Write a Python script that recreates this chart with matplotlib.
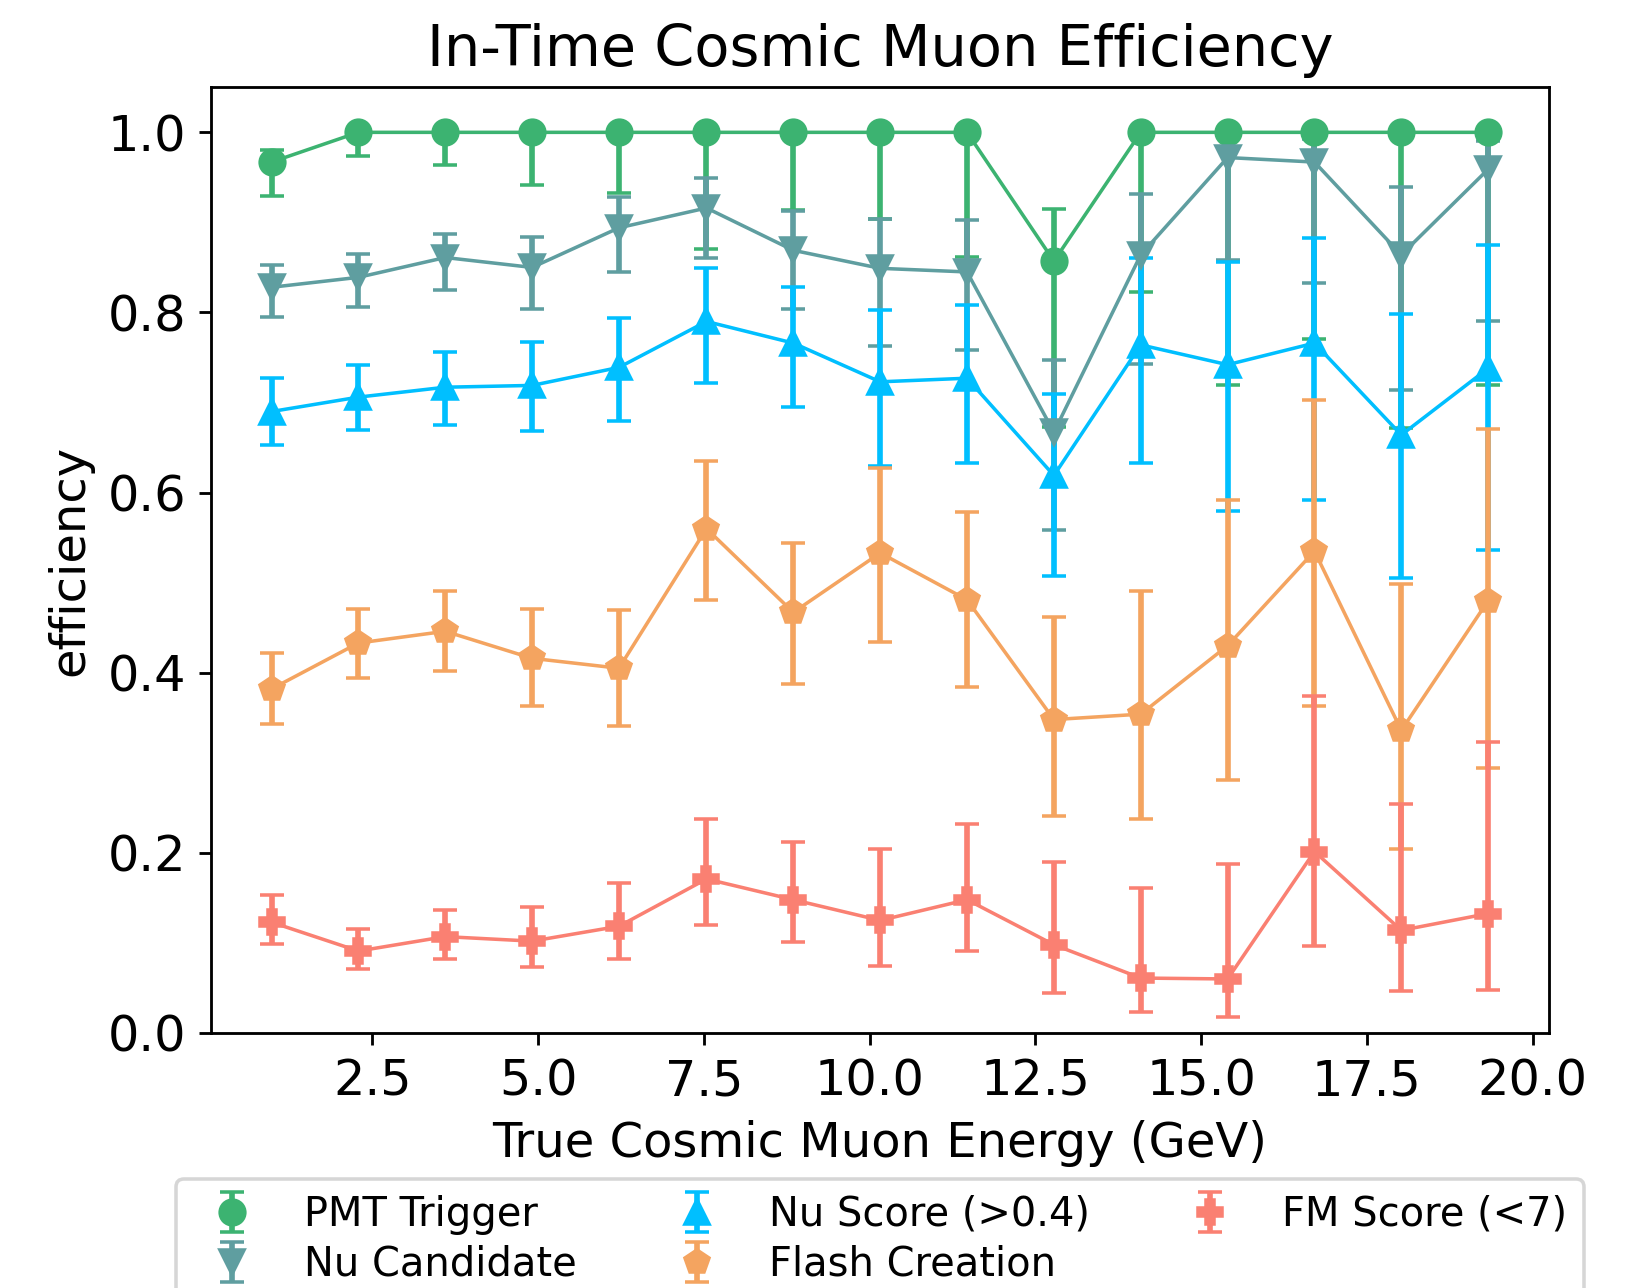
import matplotlib
matplotlib.use("Agg")
import matplotlib.pyplot as plt
import numpy as np

# Bin centres of true cosmic muon energy (GeV)
energy = [0.98, 2.29, 3.60, 4.91, 6.22, 7.54, 8.85, 10.16, 11.47, 12.78,
          14.09, 15.40, 16.71, 18.02, 19.33]

# Efficiency and its lower / upper interval bounds for each selection stage
pmt_eff = [0.967, 1.0, 1.0, 1.0, 1.0, 1.0, 1.0, 1.0, 1.0, 0.857, 1.0, 1.0, 1.0, 1.0, 1.0]
pmt_lo = [0.929, 0.974, 0.964, 0.941, 0.933, 0.870, 0.914, 0.904, 0.862, 0.673,
          0.823, 0.719, 0.770, 0.672, 0.719]
pmt_hi = [0.980, 1.0, 1.0, 1.0, 1.0, 1.0, 1.0, 1.0, 1.0, 0.915, 1.0, 1.0, 1.0, 1.0, 1.0]

cand_eff = [0.828, 0.839, 0.861, 0.850, 0.894, 0.916, 0.869, 0.849, 0.845, 0.667,
            0.864, 0.972, 0.967, 0.864, 0.959]
cand_lo = [0.795, 0.806, 0.825, 0.804, 0.845, 0.861, 0.804, 0.763, 0.758, 0.559,
           0.743, 0.858, 0.833, 0.714, 0.791]
cand_hi = [0.853, 0.865, 0.887, 0.884, 0.928, 0.949, 0.913, 0.904, 0.903, 0.747,
           0.931, 0.995, 0.993, 0.939, 0.990]

nu_eff = [0.690, 0.706, 0.717, 0.719, 0.739, 0.790, 0.766, 0.723, 0.727, 0.619,
          0.764, 0.742, 0.766, 0.664, 0.738]
nu_lo = [0.653, 0.670, 0.675, 0.668, 0.679, 0.722, 0.695, 0.630, 0.633, 0.507,
         0.633, 0.580, 0.592, 0.505, 0.536]
nu_hi = [0.727, 0.742, 0.756, 0.767, 0.794, 0.849, 0.828, 0.803, 0.808, 0.709,
         0.860, 0.856, 0.883, 0.798, 0.875]

flash_eff = [0.382, 0.433, 0.446, 0.416, 0.405, 0.560, 0.467, 0.533, 0.481, 0.348,
             0.354, 0.430, 0.535, 0.336, 0.480]
flash_lo = [0.343, 0.394, 0.402, 0.363, 0.341, 0.481, 0.387, 0.434, 0.384, 0.241,
            0.238, 0.281, 0.363, 0.204, 0.294]
flash_hi = [0.422, 0.471, 0.491, 0.471, 0.470, 0.635, 0.544, 0.627, 0.579, 0.462,
            0.491, 0.592, 0.703, 0.498, 0.671]

fm_eff = [0.123, 0.091, 0.107, 0.102, 0.1185, 0.171, 0.148, 0.125, 0.148, 0.098,
          0.061, 0.060, 0.2015, 0.114, 0.1326]
fm_lo = [0.0986, 0.0716, 0.082, 0.0735, 0.082, 0.120, 0.1008, 0.074, 0.091, 0.044,
         0.023, 0.018, 0.097, 0.0465, 0.0476]
fm_hi = [0.153, 0.116, 0.137, 0.140, 0.167, 0.2374, 0.2126, 0.204, 0.232, 0.190,
         0.161, 0.188, 0.374, 0.254, 0.323]

labels = ["PMT Trigger", "Nu Candidate", "Nu Score (>0.4)", "Flash Creation", "FM Score (<7)"]
colors = ["mediumseagreen", "cadetblue", "deepskyblue", "sandybrown", "salmon"]
markers = ["o", "v", "^", "p", "P"]
series = [
    (pmt_eff, pmt_lo, pmt_hi),
    (cand_eff, cand_lo, cand_hi),
    (nu_eff, nu_lo, nu_hi),
    (flash_eff, flash_lo, flash_hi),
    (fm_eff, fm_lo, fm_hi),
]

DPI = 254
fig = plt.figure(figsize=(1628 / DPI, 1288 / DPI), dpi=DPI)
ax = fig.add_axes([210.7 / 1628, 1 - 1033 / 1288,
                   (1549 - 210.7) / 1628, (1033 - 87.3) / 1288])

x = np.array(energy)
for (eff, lo, hi), lab, col, mk in zip(series, labels, colors, markers):
    eff = np.array(eff)
    yerr = np.vstack([eff - np.array(lo), np.array(hi) - eff])
    ax.errorbar(x, eff, yerr=yerr, fmt=mk, color=col, ms=7,
                elinewidth=1.6, capsize=3.4, label=lab)
    ax.plot(x, eff, color=col, lw=1)

ax.set_ylim(0, 1.05)
ax.set_title("In-Time Cosmic Muon Efficiency", fontsize=16.25)
ax.set_xlabel("True Cosmic Muon Energy (GeV)", fontsize=13.6)
ax.set_ylabel("efficiency", fontsize=13.6)
ax.tick_params(labelsize=14)
ax.legend(loc="upper center", bbox_to_anchor=(0.5, -0.133), ncol=3,
          fontsize=11.35, labelspacing=0.25)

fig.savefig("out.png", dpi=DPI)
